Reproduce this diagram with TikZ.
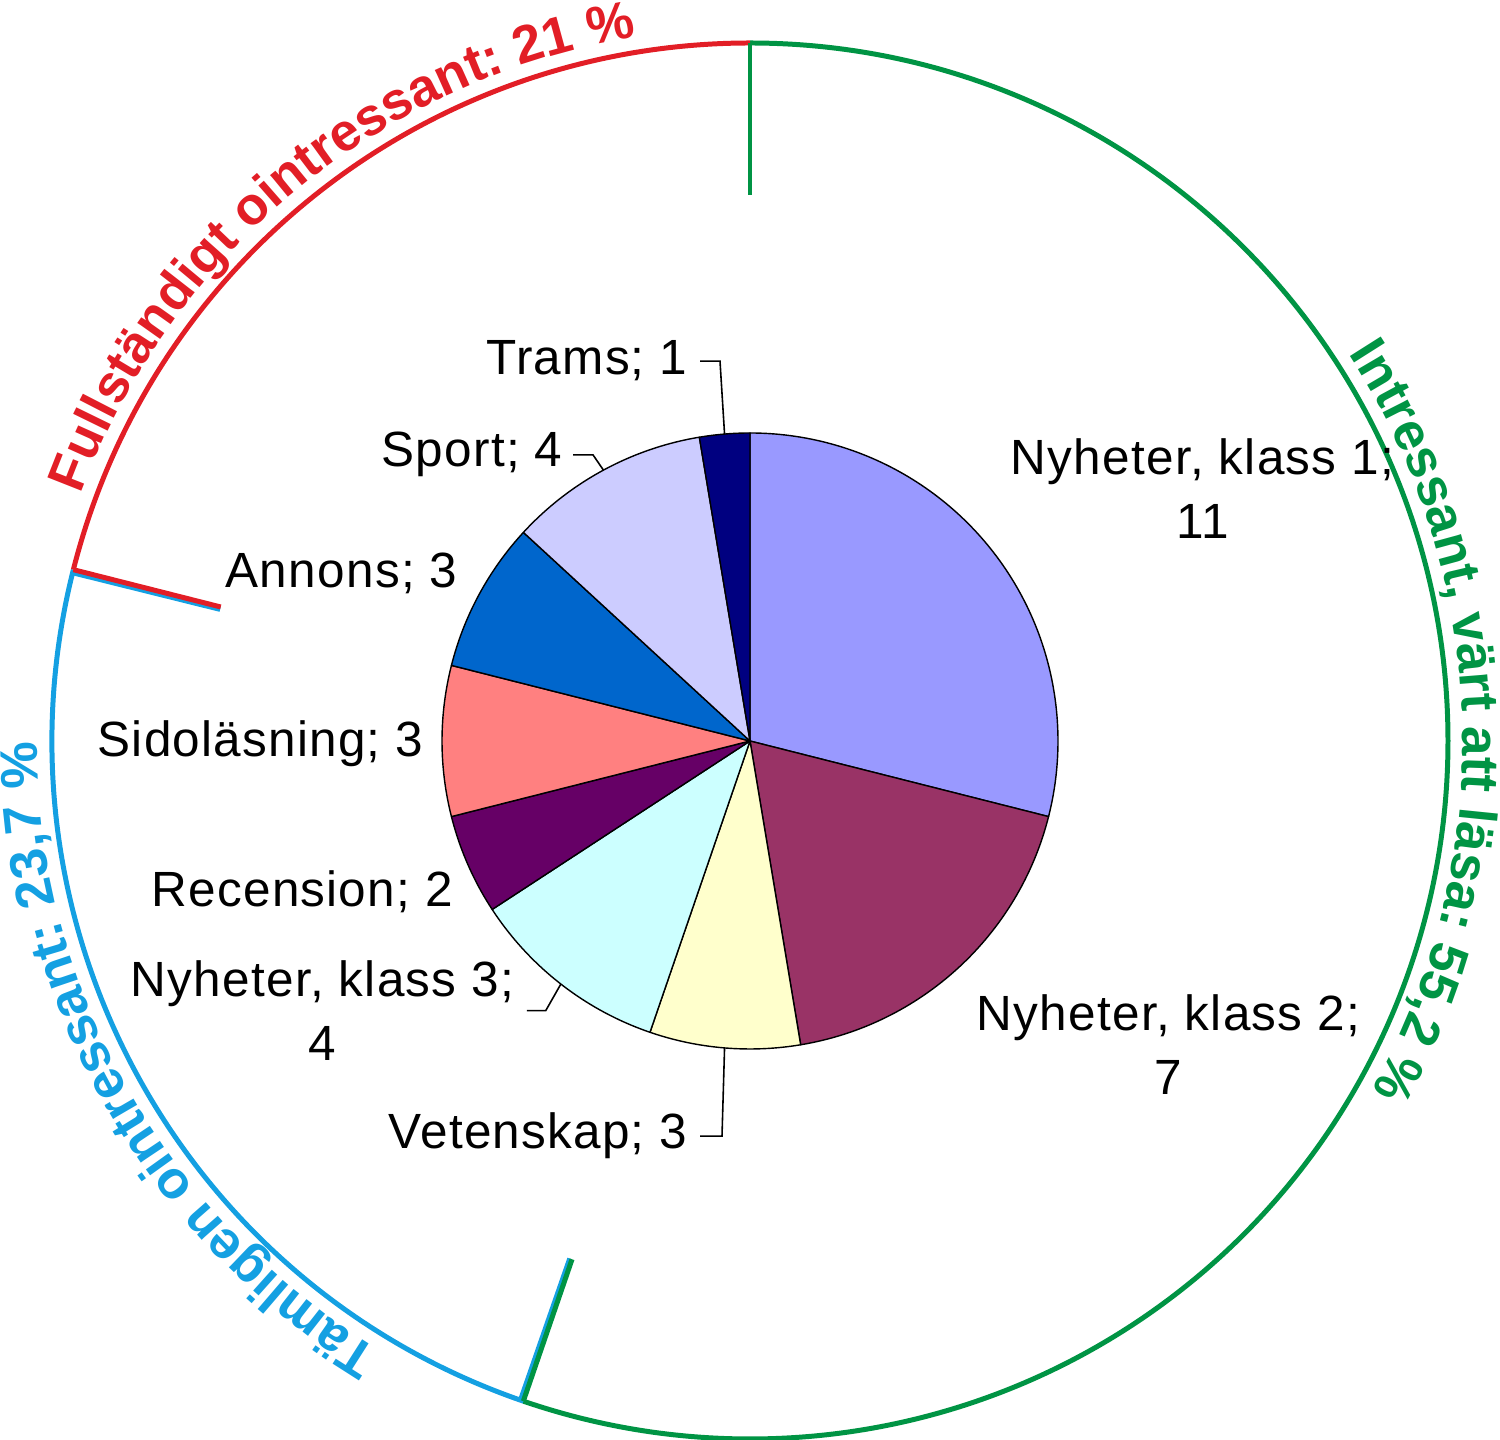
\documentclass[tikz,border=0pt]{standalone}
\usepackage{fontspec}
\setmainfont{Liberation Sans}
\newfontfamily\lblfont{Liberation Sans}[LetterSpace=2.5]
\usetikzlibrary{decorations.text}
\definecolor{cKA}{HTML}{9999FF}
\definecolor{cKB}{HTML}{993366}
\definecolor{cVet}{HTML}{FFFFCC}
\definecolor{cKC}{HTML}{CCFFFF}
\definecolor{cRec}{HTML}{660066}
\definecolor{cSid}{HTML}{FF8080}
\definecolor{cAnn}{HTML}{0066CC}
\definecolor{cSpo}{HTML}{CCCCFF}
\definecolor{cTra}{HTML}{000080}
\definecolor{ringRed}{RGB}{226,30,38}
\definecolor{ringGreen}{RGB}{0,148,68}
\definecolor{ringBlue}{RGB}{20,160,226}
\newcommand\arcfmt{\fontsize{15.08}{18}\selectfont\bfseries}
\begin{document}
\begin{tikzpicture}
\useasboundingbox (0,0) rectangle (15,14.4);
\tikzset{
  slice/.style={draw=black, line width=0.4pt, line join=round},
  ring/.style={line width=1.42pt},
  lbl/.style={font=\lblfont\fontsize{14.08}{18.2}\selectfont, inner sep=0pt},
  lbltwo/.style={lbl, align=center, anchor=north},
  leader/.style={draw=black, line width=0.45pt},
  arctext/.style={decorate, decoration={text along path, text align=center, text format delimiters={|}{|}}}
}
\begin{scope}[shift={(7.5,6.99)}]
  % pie slices
  \foreach \a/\b/\c in {90/-14.21/cKA, -14.21/-80.53/cKB, -80.53/-108.95/cVet,
      -108.95/-146.84/cKC, -146.84/-165.79/cRec, -165.79/-194.21/cSid,
      -194.21/-222.63/cAnn, -222.63/-260.53/cSpo, -260.53/-270/cTra} {
    \filldraw[slice, fill=\c] (0,0) -- (\a:3.08) arc[start angle=\a, end angle=\b, radius=3.08cm] -- cycle;
  }
  \coordinate (pTrams) at (94.74:3.08);
  \coordinate (pSport) at (118.42:3.08);
  \coordinate (pK3) at (-127.89:3.08);
  \coordinate (pVet) at (-94.74:3.08);
  % outer ring
  \draw[ring, ringGreen] (90:6.98) arc[start angle=90, end angle=-108.95, radius=6.98cm];
  \draw[ring, ringBlue] (-108.95:6.98) arc[start angle=-108.95, end angle=-194.21, radius=6.98cm];
  \draw[ring, ringRed] (165.79:6.98) arc[start angle=165.79, end angle=90, radius=6.98cm];
  % ticks
  \draw[ring, ringGreen] (90:6.98) -- (90:5.46);
  \draw[ring, ringBlue] (166.05:6.98) -- (166.05:5.46);
  \draw[ring, ringRed] (165.79:6.98) -- (165.79:5.46);
  \draw[ring, ringBlue] (-109.2:6.98) -- (-109.2:5.48);
  \draw[ring, ringGreen] (-108.95:6.98) -- (-108.95:5.48);
  % curved texts
  \path[arctext, decoration={text={|\arcfmt|Fullständigt ointressant: 21 {\%}}, text color=ringRed}]
    (169.45:7.13) arc[start angle=169.45, end angle=89.45, radius=7.13cm];
  \path[arctext, decoration={text={|\arcfmt|Intressant, värt att läsa: 55,2 {\%}}, text color=ringGreen}]
    (41.75:7.13) arc[start angle=41.75, end angle=-38.25, radius=7.13cm];
  \path[arctext, decoration={text={|\arcfmt|Tämligen ointressant: 23,7 {\%}}, text color=ringBlue}]
    (-110.6:7.13) arc[start angle=-110.6, end angle=-190.6, radius=7.13cm];
\end{scope}
% labels
\node[lbl, anchor=base east] (trams) at (6.88,10.65) {Trams; 1};
\node[lbl, anchor=base east] (sport) at (5.63,9.73) {Sport; 4};
\node[lbl, anchor=base east] (annons) at (4.58,8.52) {Annons; 3};
\node[lbl, anchor=base east] (sido) at (4.24,6.83) {Sidoläsning; 3};
\node[lbl, anchor=base east] (rec) at (4.535,5.33) {Recension; 2};
\node[lbltwo] (k3) at (3.225,4.80) {Nyheter, klass 3;\\4};
\node[lbl, anchor=base east] (vet) at (6.88,2.91) {Vetenskap; 3};
\node[lbltwo] (k2) at (11.685,4.464) {Nyheter, klass 2;\\7};
\node[lbltwo] (k1) at (12.025,10.024) {Nyheter, klass 1;\\11};
% leaders
\draw[leader] ([xshift=0.12cm]trams.east) -- ++(0.2,0) -- (pTrams);
\draw[leader] ([xshift=0.1cm]sport.east) -- ++(0.2,0) -- (pSport);
\draw[leader] ([xshift=0.12cm]k3.east) -- ++(0.19,0) -- (pK3);
\draw[leader] ([xshift=0.12cm]vet.east) -- ++(0.22,0) -- (pVet);
\end{tikzpicture}
\end{document}
